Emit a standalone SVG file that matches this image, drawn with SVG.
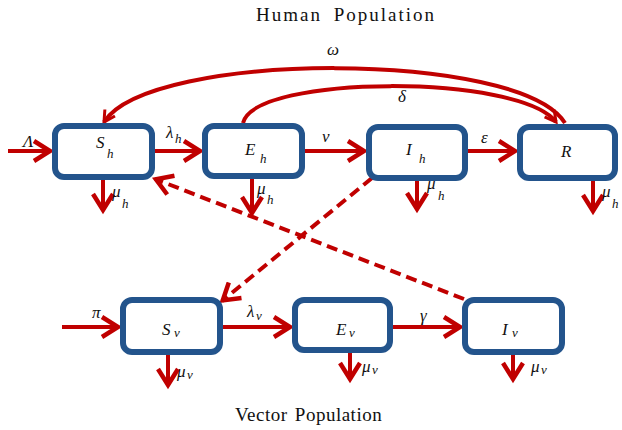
<svg xmlns="http://www.w3.org/2000/svg" width="622" height="430" viewBox="0 0 622 430">
<style>
.box{fill:#fff;stroke:#23548C;stroke-width:6}
.ar{fill:none;stroke:#C00000;stroke-width:4;marker-end:url(#ah)}
.da{fill:none;stroke:#C00000;stroke-width:4;stroke-dasharray:11,6;marker-end:url(#ah)}
.cu{fill:none;stroke:#C00000;stroke-width:4}
.t{font-family:"Liberation Serif",serif;font-style:italic;font-size:17px;fill:#111}
.s{font-size:13px}
.title{font-family:"Liberation Serif",serif;font-size:19px;fill:#111;letter-spacing:2px;word-spacing:5px}
</style>
<defs>
<marker id="ah" markerUnits="userSpaceOnUse" markerWidth="24" markerHeight="24" viewBox="0 0 24 24" refX="20" refY="12" orient="auto">
<path d="M3,2 L19,12 L3,22" fill="none" stroke="#C00000" stroke-width="4.5"/>
</marker>
<marker id="sm" markerUnits="userSpaceOnUse" markerWidth="16" markerHeight="16" viewBox="0 0 16 16" refX="13" refY="8" orient="auto">
<path d="M2,2 L13,8 L2,14" fill="none" stroke="#C00000" stroke-width="3"/>
</marker>
</defs>
<text class="title" x="256" y="21">Human Population</text>
<text class="title" x="235" y="421" style="letter-spacing:0.5px;word-spacing:2px">Vector Population</text>
<g id="connectors">
<path class="cu" d="M565,123 C520,50 150,50 104,122" marker-end="url(#sm)"/>
<path class="cu" d="M243,123 C255,74 520,74 556,122" marker-end="url(#sm)"/>
<path class="ar" d="M8,151 L51,151"/>
<path class="ar" d="M155,151 L201,151"/>
<path class="ar" d="M305,151 L365,151"/>
<path class="ar" d="M468,151 L516,151"/>
<path class="ar" d="M103,180 L103,211"/>
<path class="ar" d="M252,178 L252,214"/>
<path class="ar" d="M417,181 L417,210"/>
<path class="ar" d="M593,181 L593,212"/>
<path class="ar" d="M62,327 L119,327"/>
<path class="ar" d="M223,327 L291,327"/>
<path class="ar" d="M393,327 L461,327"/>
<path class="ar" d="M168,355 L168,386"/>
<path class="ar" d="M350,353 L350,380"/>
<path class="ar" d="M513,355 L513,380"/>
<path class="da" d="M464,299 L155,179"/>
<path class="da" d="M372,178 L222,301"/>
</g>
<g id="Sh"><rect class="box" x="55" y="126" width="97" height="51" rx="9"/><text class="t" x="96" y="148">S</text><text class="t s" x="107" y="158">h</text></g>
<g id="Eh"><rect class="box" x="205" y="126" width="97" height="50" rx="9"/><text class="t" x="245" y="155">E</text><text class="t s" x="260" y="163">h</text></g>
<g id="Ih"><rect class="box" x="369" y="127" width="96" height="51" rx="9"/><text class="t" x="406" y="155">I</text><text class="t s" x="419" y="163">h</text></g>
<g id="R"><rect class="box" x="520" y="127" width="95" height="51" rx="9"/><text class="t" x="561" y="157">R</text></g>
<g id="Sv"><rect class="box" x="123" y="300" width="97" height="52" rx="9"/><text class="t" x="162" y="335">S</text><text class="t s" x="174" y="337">v</text></g>
<g id="Ev"><rect class="box" x="295" y="300" width="95" height="50" rx="9"/><text class="t" x="336" y="335">E</text><text class="t s" x="349" y="337">v</text></g>
<g id="Iv"><rect class="box" x="465" y="300" width="97" height="52" rx="9"/><text class="t" x="502" y="335">I</text><text class="t s" x="512" y="337">v</text></g>
<g id="labels">
<text class="t" x="23" y="147">Λ</text>
<text class="t" x="166" y="138">λ</text><text class="t s" x="175" y="143">h</text>
<text class="t" x="322" y="142">ν</text>
<text class="t" x="481" y="143">ε</text>
<text class="t" x="327" y="55">ω</text>
<text class="t" x="398" y="102">δ</text>
<text class="t" x="112" y="197">μ</text><text class="t s" x="122" y="208">h</text>
<text class="t" x="257" y="194">μ</text><text class="t s" x="267" y="204">h</text>
<text class="t" x="427" y="189">μ</text><text class="t s" x="438" y="200">h</text>
<text class="t" x="602" y="197">μ</text><text class="t s" x="612" y="208">h</text>
<text class="t" x="92" y="318">π</text>
<text class="t" x="247" y="317">λ</text><text class="t s" x="256" y="320">v</text>
<text class="t" x="420" y="321">γ</text>
<text class="t" x="177" y="377">μ</text><text class="t s" x="187" y="379">v</text>
<text class="t" x="362" y="372">μ</text><text class="t s" x="372" y="374">v</text>
<text class="t" x="531" y="372">μ</text><text class="t s" x="541" y="374">v</text>
</g>
</svg>
